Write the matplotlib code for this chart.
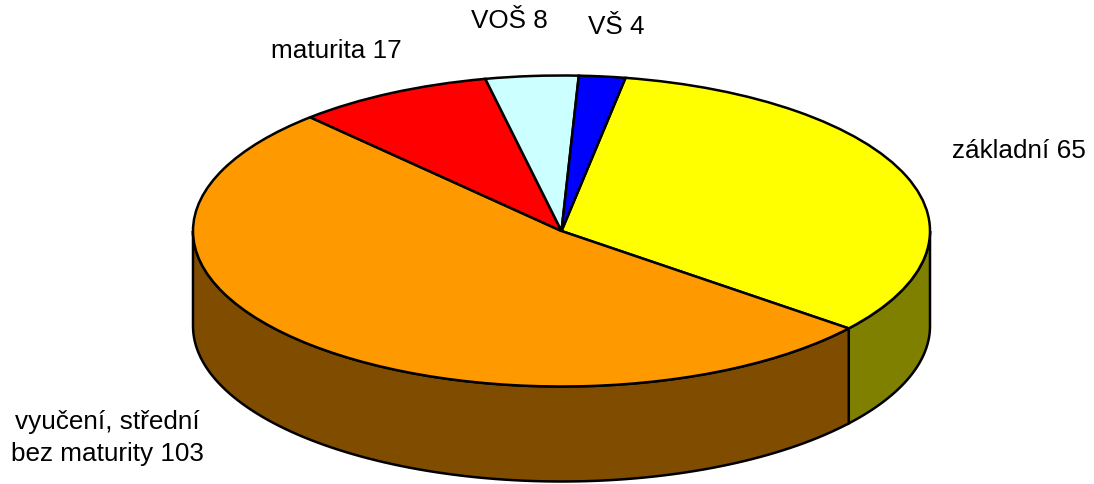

import numpy as np
import matplotlib
matplotlib.use("Agg")
import matplotlib.pyplot as plt

labels = ["základní 65", "vyučení, střední\nbez maturity 103", "maturita 17", "VOŠ 8", "VŠ 4"]
values = [65, 103, 17, 8, 4]
colors = ["#FFFF00", "#FF9900", "#FF0000", "#CCFFFF", "#0000FF"]
side_colors = ["#808000", "#804D00", "#800000", "#668080", "#000080"]
label_x = [1019, 107.5, 336, 509, 616]
label_y = [151, 438, 50.5, 21.5, 27]

W, H = 1094, 484
CX, CY, RX, RY = 561.5, 231, 368.5, 155.5
DEPTH = 95 / RY
START = 80

plt.rcParams["font.family"] = ["Liberation Sans", "DejaVu Sans"]

fig = plt.figure(figsize=(W / 100, H / 100), dpi=100)
ax = fig.add_axes([0, 0, 1, 1])

# top of the pie, squashed into an ellipse by the axis limits
ax.pie(values, colors=colors, startangle=START, counterclock=False,
       wedgeprops={"edgecolor": "black", "linewidth": 1.8, "zorder": 3})
ax.set_aspect("auto")
ax.set_xlim(-CX / RX, (W - CX) / RX)
ax.set_ylim((CY - H) / RY, CY / RY)

# side wall: only the part of each slice on the front half is visible
edges = START - np.cumsum([0] + values) / sum(values) * 360
for i in range(len(values)):
    a1 = edges[i + 1] % 360
    a2 = a1 + values[i] / sum(values) * 360
    lo = max(a1, 180)
    hi = min(a2, 360)
    if hi <= lo:
        continue
    t = np.radians(np.linspace(lo, hi, 100))
    x = np.cos(t)
    y = np.sin(t)
    ax.fill(np.r_[x, x[::-1]], np.r_[y, y[::-1] - DEPTH],
            facecolor=side_colors[i], edgecolor="black", linewidth=1.8, zorder=2)

for lab, x, y in zip(labels, label_x, label_y):
    fig.text(x / W, 1 - y / H, lab, fontsize=18.8, ha="center", va="center", color="black",
             linespacing=1.45)

fig.savefig("out.png", dpi=100)
